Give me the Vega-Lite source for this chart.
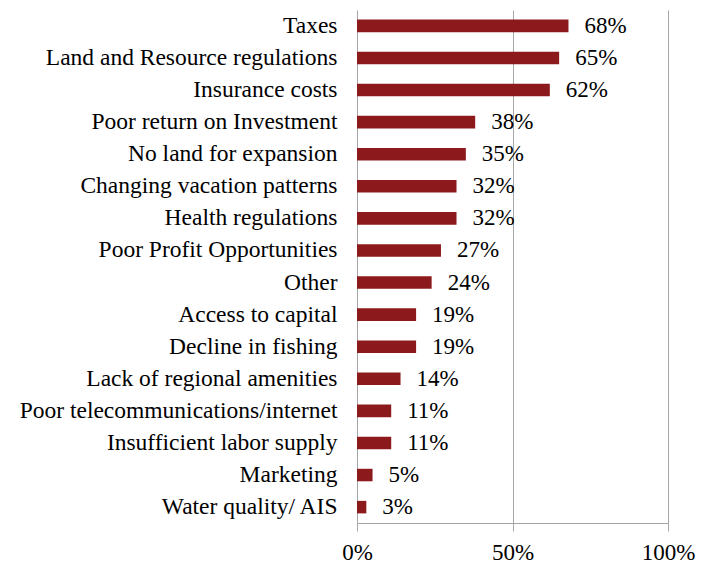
{
  "$schema": "https://vega.github.io/schema/vega-lite/v6.json",
  "autosize": {"type": "none"},
  "padding": {"left": 357, "top": 10, "right": 42, "bottom": 44},
  "width": 311,
  "height": 513,
  "background": "white",
  "config": {"view": {"stroke": null}, "font": "Times New Roman, Liberation Serif, serif"},
  "data": {"values": [
    {"category": "Taxes", "value": 0.68},
    {"category": "Land and Resource regulations", "value": 0.65},
    {"category": "Insurance costs", "value": 0.62},
    {"category": "Poor return on Investment", "value": 0.38},
    {"category": "No land for expansion", "value": 0.35},
    {"category": "Changing vacation patterns", "value": 0.32},
    {"category": "Health regulations", "value": 0.32},
    {"category": "Poor Profit Opportunities", "value": 0.27},
    {"category": "Other", "value": 0.24},
    {"category": "Access to capital", "value": 0.19},
    {"category": "Decline in fishing", "value": 0.19},
    {"category": "Lack of regional amenities", "value": 0.14},
    {"category": "Poor telecommunications/internet", "value": 0.11},
    {"category": "Insufficient labor supply", "value": 0.11},
    {"category": "Marketing", "value": 0.05},
    {"category": "Water quality/ AIS", "value": 0.03}
  ]},
  "encoding": {
    "y": {
      "field": "category", "type": "nominal", "sort": null,
      "scale": {"paddingInner": 0.61, "paddingOuter": 0.3},
      "axis": {"title": null, "domain": false, "ticks": false, "labelFontSize": 23.5, "labelColor": "black", "labelPadding": 20, "labelFont": "Times New Roman, Liberation Serif, serif", "labelLimit": 400}
    },
    "x": {
      "field": "value", "type": "quantitative",
      "scale": {"domain": [0, 1], "nice": false},
      "axis": {"title": null, "values": [0, 0.5, 1], "format": ".0%", "grid": true, "gridColor": "#A6A6A6", "gridOpacity": 1, "domainColor": "#A6A6A6", "tickColor": "#A6A6A6", "tickSize": 8, "labelFontSize": 23, "labelColor": "black", "labelPadding": 10, "labelFont": "Times New Roman, Liberation Serif, serif", "labelFlush": false}
    }
  },
  "layer": [
    {"mark": {"type": "bar", "color": "#8C1A1D"}},
    {"mark": {"type": "text", "align": "left", "baseline": "middle", "dx": 16, "fontSize": 23, "font": "Times New Roman, Liberation Serif, serif", "color": "black"},
     "encoding": {"text": {"field": "value", "type": "quantitative", "format": ".0%"}}}
  ]
}
